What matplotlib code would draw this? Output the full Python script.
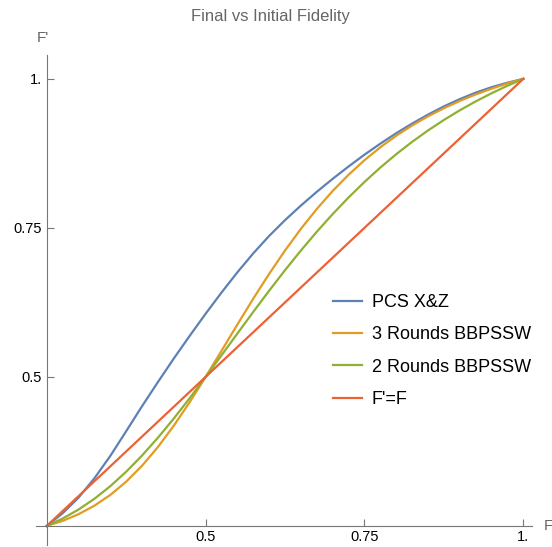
import matplotlib
matplotlib.use("Agg")
import matplotlib.pyplot as plt
from matplotlib.ticker import FixedLocator, FixedFormatter

plt.rcParams["font.family"] = ["Liberation Sans", "DejaVu Sans"]

# initial fidelity F
fidelity = [0.250, 0.275, 0.300, 0.325, 0.350, 0.375, 0.400, 0.425,
            0.450, 0.475, 0.500, 0.525, 0.550, 0.575, 0.600, 0.625,
            0.650, 0.675, 0.700, 0.725, 0.750, 0.775, 0.800, 0.825,
            0.850, 0.875, 0.900, 0.925, 0.950, 0.975, 1.000]

# final fidelity F' for each protocol
pcs_xz = [0.2500, 0.2713, 0.2975, 0.3300, 0.3675, 0.4090, 0.4510, 0.4915,
          0.5310, 0.5690, 0.6060, 0.6415, 0.6755, 0.7073, 0.7365, 0.7630,
          0.7875, 0.8105, 0.8323, 0.8530, 0.8728, 0.8913, 0.9088, 0.9250,
          0.9400, 0.9538, 0.9660, 0.9768, 0.9860, 0.9935, 1.0000]
bbpssw_3 = [0.2500, 0.2585, 0.2697, 0.2840, 0.3020, 0.3243, 0.3511, 0.3825,
            0.4183, 0.4578, 0.5000, 0.5438, 0.5879, 0.6313, 0.6729, 0.7121,
            0.7485, 0.7817, 0.8120, 0.8391, 0.8635, 0.8852, 0.9046, 0.9218,
            0.9371, 0.9507, 0.9629, 0.9738, 0.9835, 0.9922, 1.0000]
bbpssw_2 = [0.2500, 0.2624, 0.2775, 0.2956, 0.3167, 0.3410, 0.3682, 0.3981,
            0.4303, 0.4645, 0.5000, 0.5363, 0.5728, 0.6091, 0.6446, 0.6791,
            0.7121, 0.7435, 0.7732, 0.8010, 0.8270, 0.8512, 0.8736, 0.8943,
            0.9134, 0.9310, 0.9472, 0.9621, 0.9758, 0.9884, 1.0000]
identity = fidelity

series = [
    ("PCS X&Z", pcs_xz, "#5E81B5"),
    ("3 Rounds BBPSSW", bbpssw_3, "#E19C24"),
    ("2 Rounds BBPSSW", bbpssw_2, "#8FB032"),
    ("F'=F", identity, "#EB6235"),
]

tick_vals = [0.5, 0.75, 1.0]
tick_labels = ["0.5", "0.75", "1."]

W, H = 552, 547
fig = plt.figure(figsize=(W / 100, H / 100), dpi=100)
ax = fig.add_axes([36 / W, 1 - 545 / H, 496 / W, 490 / H])

for label, vals, color in series:
    ax.plot(fidelity, vals, color=color, lw=1.6, label=label,
            solid_joinstyle="round")

ax.set_xlim(0.233, 1.0137)
ax.set_ylim(0.218, 1.040)

axis_gray = "#777777"
for side in ["top", "right"]:
    ax.spines[side].set_visible(False)
for side in ["left", "bottom"]:
    ax.spines[side].set_position(("data", 0.25))
    ax.spines[side].set_color(axis_gray)
    ax.spines[side].set_linewidth(0.8)

for axis in [ax.xaxis, ax.yaxis]:
    axis.set_major_locator(FixedLocator(tick_vals))
    axis.set_major_formatter(FixedFormatter(tick_labels))
ax.tick_params(direction="in", length=4.8, width=0.8, color=axis_gray,
               labelsize=10.5, labelcolor="black")
ax.tick_params(axis="x", pad=3)
ax.tick_params(axis="y", pad=3.5)

ax.legend(loc="center left", bbox_to_anchor=(333 / W, 1 - 351 / H),
          bbox_transform=fig.transFigure, frameon=False, fontsize=13,
          handlelength=1.6, handletextpad=0.55, labelspacing=0.85,
          borderpad=0, borderaxespad=0)

label_gray = "#666666"
fig.text(270 / W, 1 - 16 / H, "Final vs Initial Fidelity", ha="center",
         va="center", fontsize=12, color=label_gray)
fig.text(43 / W, 1 - 38 / H, "F'", ha="center", va="center",
         fontsize=11, color=label_gray)
fig.text(548 / W, 1 - 526 / H, "F", ha="center", va="center",
         fontsize=11, color=label_gray)

fig.savefig("out.png", dpi=100)
